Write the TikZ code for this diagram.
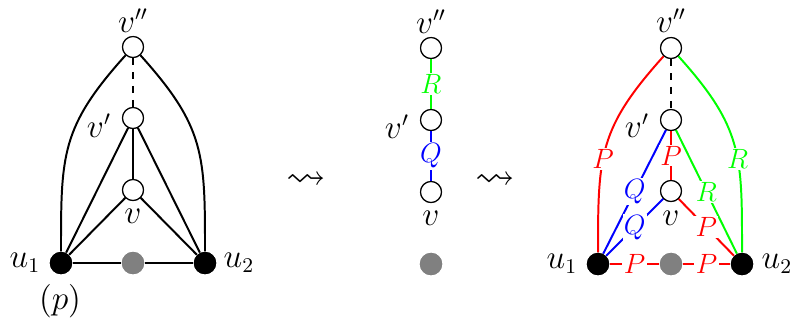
\documentclass[tikz,border=0pt]{standalone}
\usepackage{amssymb}
\begin{document}
\begin{tikzpicture}[x=0.43pt,y=-0.43pt,
  wv/.style={circle,draw,fill=white,minimum size=9pt,inner sep=0pt,line width=0.5pt},
  bv/.style={circle,fill=black,minimum size=9.6pt,inner sep=0pt},
  gv/.style={circle,fill=gray,minimum size=9.6pt,inner sep=0pt},
  ed/.style={line width=0.85pt},
  txt/.style={font=\fontsize{13.5}{16}\selectfont},
  lab/.style={font=\fontsize{11.5}{14}\selectfont,fill=white,inner sep=0.6pt},
  sq/.style={font=\fontsize{17}{20}\selectfont},
  rd/.style={ed,red},
  gr/.style={ed,green},
  bl/.style={ed,blue},
  arcL/.style={out=90,in=-132,looseness=1.2},
  arcR/.style={out=90,in=-48,looseness=1.2}]
\useasboundingbox (0,0) rectangle (791,324);
% ---------- left panel ----------
\node[wv] (Avpp) at (133,47) {};
\node[wv] (Avp) at (133,118) {};
\node[wv] (Av) at (133,190) {};
\node[bv] (Au1) at (61,263) {};
\node[bv] (Au2) at (205,263) {};
\node[gv] (Ag) at (133,263) {};
\node[txt] (LAvpp) at (133,21) {$v''$};
\node[txt] (LAvp) at (99,126) {$v'$};
\node[txt] (LAv) at (133,216) {$v$};
\node[txt] (LAu1) at (25,263) {$u_1$};
\node[txt] (LAu2) at (239,263) {$u_2$};
\node[txt] (LAp) at (60,301) {$(p)$};
\draw[ed] (Au1) to[arcL] (Avpp);
\draw[ed] (Au2) to[arcR] (Avpp);
\draw[ed,dashed] (Avpp) -- (Avp);
\draw[ed] (Avp) -- (Au1);
\draw[ed] (Avp) -- (Au2);
\draw[ed] (Avp) -- (Av);
\draw[ed] (Av) -- (Au1);
\draw[ed] (Av) -- (Au2);
\draw[ed] (Au1) -- (Ag);
\draw[ed] (Ag) -- (Au2);
% ---------- arrows ----------
\node[sq] (S1) at (306,181) {$\rightsquigarrow$};
\node[sq] (S2) at (495,181) {$\rightsquigarrow$};
% ---------- middle panel ----------
\node[wv] (Bvpp) at (431,48) {};
\node[wv] (Bvp) at (431,120) {};
\node[wv] (Bv) at (431,192) {};
\node[gv] (Bg) at (431,264) {};
\node[txt] (LBvpp) at (431,22) {$v''$};
\node[txt] (LBvp) at (397,127) {$v'$};
\node[txt] (LBv) at (431,218) {$v$};
\draw[gr] (Bvpp) -- node[lab,text=green] {$R$} (Bvp);
\draw[bl] (Bvp) -- node[lab,text=blue] {$Q$} (Bv);
% ---------- right panel ----------
\node[wv] (Cvpp) at (671,48) {};
\node[wv] (Cvp) at (671,120) {};
\node[wv] (Cv) at (671,191) {};
\node[bv] (Cu1) at (598,264) {};
\node[bv] (Cu2) at (742,264) {};
\node[gv] (Cg) at (671,264) {};
\node[txt] (LCvpp) at (671,21) {$v''$};
\node[txt] (LCvp) at (637,126) {$v'$};
\node[txt] (LCv) at (671,218) {$v$};
\node[txt] (LCu1) at (562,264) {$u_1$};
\node[txt] (LCu2) at (777,264) {$u_2$};
\draw[rd] (Cu1) to[arcL] node[lab,text=red,pos=0.42] {$P$} (Cvpp);
\draw[gr] (Cu2) to[arcR] node[lab,text=green,pos=0.42] {$R$} (Cvpp);
\draw[ed,dashed] (Cvpp) -- (Cvp);
\draw[bl] (Cvp) -- node[lab,text=blue] {$Q$} (Cu1);
\draw[bl] (Cv) -- node[lab,text=blue] {$Q$} (Cu1);
\draw[rd] (Cvp) -- node[lab,text=red] {$P$} (Cv);
\draw[gr] (Cvp) -- node[lab,text=green] {$R$} (Cu2);
\draw[rd] (Cv) -- node[lab,text=red] {$P$} (Cu2);
\draw[rd] (Cu1) -- node[lab,text=red] {$P$} (Cg);
\draw[rd] (Cg) -- node[lab,text=red] {$P$} (Cu2);
% redraw vertices on top
\foreach \n/\s in {Avpp/wv,Avp/wv,Av/wv,Au1/bv,Au2/bv,Ag/gv,Bvpp/wv,Bvp/wv,Bv/wv,Bg/gv,Cvpp/wv,Cvp/wv,Cv/wv,Cu1/bv,Cu2/bv,Cg/gv}
  \node[\s] at (\n) {};
\end{tikzpicture}
\end{document}
